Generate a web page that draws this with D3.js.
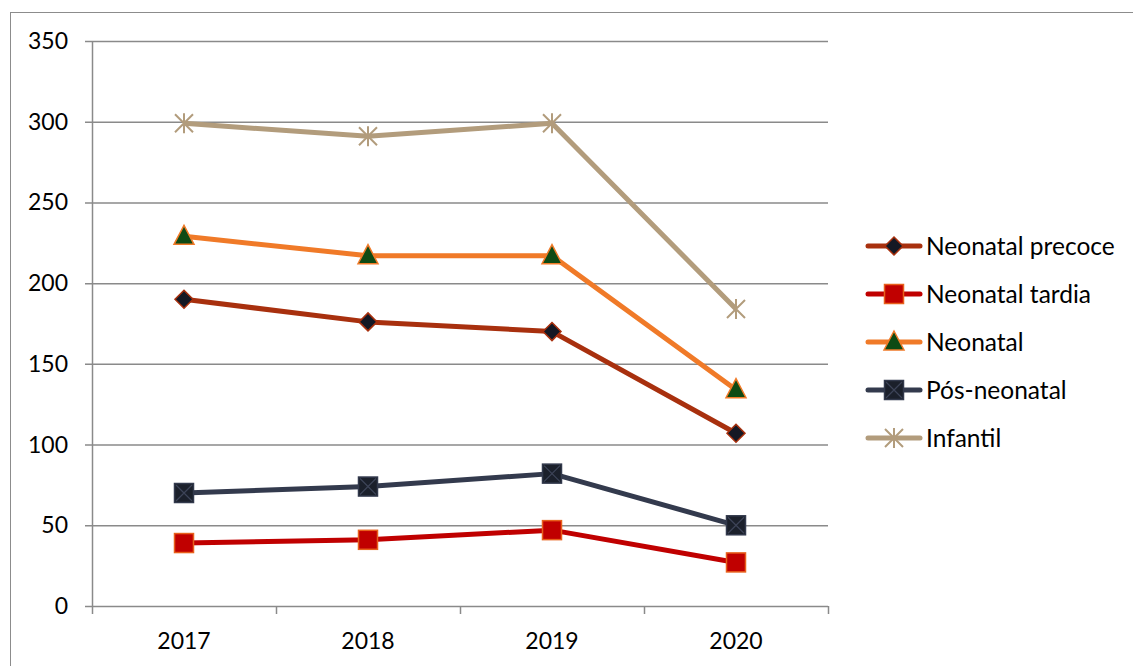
<!DOCTYPE html>
<html>
<head>
<meta charset="utf-8">
<script src="https://cdn.jsdelivr.net/npm/d3@7"></script>
<style>
  body { margin: 0; background: #fff; }
  text { font-family: Lato, "Open Sans", sans-serif; fill: #000; }
</style>
</head>
<body>
<svg width="1133" height="666"></svg>
<script>
var years = ["2017", "2018", "2019", "2020"];
var yTicks = [0, 50, 100, 150, 200, 250, 300, 350];

// values
var neonatalPrecoce = [190, 176, 170, 107];
var neonatalTardia = [39, 41, 47, 27];
var neonatal = [229, 217, 217, 134];
var posNeonatal = [70, 74, 82, 50];
var infantil = [299, 291, 299, 184];

var seriesNames = ["Neonatal precoce", "Neonatal tardia", "Neonatal", "Pós-neonatal", "Infantil"];

var series = [
  {name: seriesNames[0], values: neonatalPrecoce, line: "#A8300E", fill: "#141824", stroke: "#A8300E", marker: "diamond"},
  {name: seriesNames[1], values: neonatalTardia, line: "#C00000", fill: "#C00000", stroke: "#E8601C", marker: "square"},
  {name: seriesNames[2], values: neonatal, line: "#F07A28", fill: "#0E4A14", stroke: "#F07A28", marker: "triangle"},
  {name: seriesNames[3], values: posNeonatal, line: "#333A4D", fill: "#1B202B", stroke: "#333A4D", marker: "xsquare"},
  {name: seriesNames[4], values: infantil, line: "#B29C7C", fill: "none", stroke: "#B29C7C", marker: "star"}
];

var svg = d3.select("svg");

// outer chart frame
svg.append("rect")
    .attr("x", 10.5).attr("y", 12.5)
    .attr("width", 1140).attr("height", 680)
    .attr("fill", "none").attr("stroke", "#8c8c8c").attr("stroke-width", 1);

var plotLeft = 92, plotRight = 828, plotTop = 41, plotBottom = 606;

var x = d3.scaleBand().domain(years).range([plotLeft, plotRight]);
var y = d3.scaleLinear().domain([0, 350]).range([plotBottom, plotTop]);

// gridlines
svg.append("g").selectAll("line")
    .data(yTicks)
    .enter().append("line")
      .attr("x1", plotLeft - 7).attr("x2", plotRight)
      .attr("y1", d => y(d) + 0.5).attr("y2", d => y(d) + 0.5)
      .attr("stroke", "#8a8a8a").attr("stroke-width", 1.5);

// y axis line
svg.append("line")
    .attr("x1", plotLeft + 0.5).attr("x2", plotLeft + 0.5)
    .attr("y1", plotTop).attr("y2", plotBottom)
    .attr("stroke", "#8a8a8a").attr("stroke-width", 1.5);

// x tick marks at band boundaries
var bounds = years.map(d => x(d)).concat([plotRight]);
svg.append("g").selectAll("line")
    .data(bounds)
    .enter().append("line")
      .attr("x1", d => d + 0.5).attr("x2", d => d + 0.5)
      .attr("y1", plotBottom).attr("y2", plotBottom + 8)
      .attr("stroke", "#8a8a8a").attr("stroke-width", 1.5);

svg.append("g").selectAll("text")
    .data(yTicks)
    .enter().append("text")
      .attr("x", 68).attr("y", d => y(d))
      .attr("dy", "0.35em")
      .attr("text-anchor", "end")
      .attr("font-size", 23)
      .text(d => d);

svg.append("g").selectAll("text")
    .data(years)
    .enter().append("text")
      .attr("x", d => x(d) + x.bandwidth() / 2)
      .attr("y", 641)
      .attr("dy", "0.35em")
      .attr("text-anchor", "middle")
      .attr("font-size", 23)
      .text(d => d);

var line = d3.line()
    .x((d, i) => x(years[i]) + x.bandwidth() / 2)
    .y(d => y(d));

function drawMarker(g, s, cx, cy) {
  if (s.marker == "diamond") {
    g.append("path")
      .attr("d", `M${cx},${cy-9}L${cx+9},${cy}L${cx},${cy+9}L${cx-9},${cy}Z`)
      .attr("fill", s.fill).attr("stroke", s.stroke).attr("stroke-width", 1.5);
  } else if (s.marker == "square") {
    g.append("rect")
      .attr("x", cx - 9.5).attr("y", cy - 9.5).attr("width", 19).attr("height", 19)
      .attr("fill", s.fill).attr("stroke", s.stroke).attr("stroke-width", 1.5);
  } else if (s.marker == "triangle") {
    g.append("path")
      .attr("d", `M${cx},${cy-11}L${cx+10},${cy+8}L${cx-10},${cy+8}Z`)
      .attr("fill", s.fill).attr("stroke", s.stroke).attr("stroke-width", 1.5);
  } else if (s.marker == "xsquare") {
    g.append("rect")
      .attr("x", cx - 9.5).attr("y", cy - 9.5).attr("width", 19).attr("height", 19)
      .attr("fill", s.fill).attr("stroke", s.stroke).attr("stroke-width", 1.5);
    g.append("path")
      .attr("d", `M${cx-8},${cy-8}L${cx+8},${cy+8}M${cx+8},${cy-8}L${cx-8},${cy+8}`)
      .attr("stroke", "#3d4458").attr("stroke-width", 1.2);
  } else if (s.marker == "star") {
    g.append("path")
      .attr("d", `M${cx-9},${cy-9}L${cx+9},${cy+9}M${cx+9},${cy-9}L${cx-9},${cy+9}M${cx},${cy-10}L${cx},${cy+10}`)
      .attr("stroke", s.stroke).attr("stroke-width", 2);
  }
}

series.forEach(function(s) {
  var g = svg.append("g");
  g.append("path")
    .datum(s.values)
    .attr("d", line)
    .attr("fill", "none")
    .attr("stroke", s.line)
    .attr("stroke-width", 5)
    .attr("stroke-linejoin", "round");
  s.values.forEach(function(v, i) {
    drawMarker(g, s, x(years[i]) + x.bandwidth() / 2, y(v));
  });
});

// legend
var legend = svg.append("g");
series.forEach(function(s, i) {
  var ly = 246 + i * 48;
  var g = legend.append("g");
  g.append("line")
    .attr("x1", 868).attr("x2", 920)
    .attr("y1", ly).attr("y2", ly)
    .attr("stroke", s.line).attr("stroke-width", 5)
    .attr("stroke-linecap", "round");
  drawMarker(g, s, 894, ly);
  g.append("text")
    .attr("x", 926).attr("y", ly)
    .attr("dy", "0.35em")
    .attr("font-size", 24.5)
    .text(s.name);
});
</script>
</body>
</html>
